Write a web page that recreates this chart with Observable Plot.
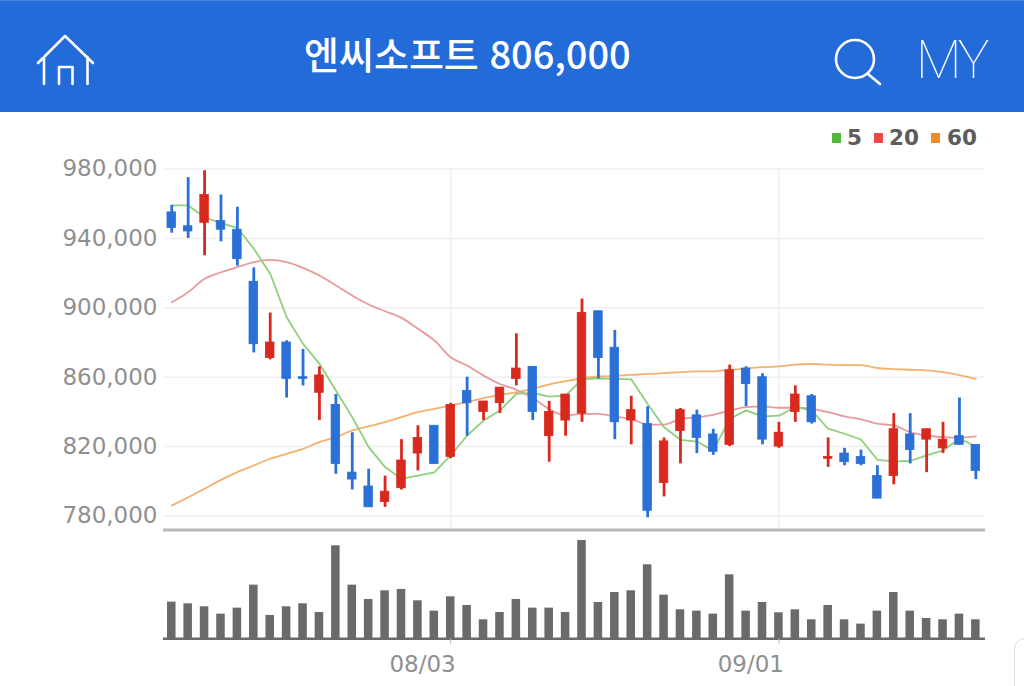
<!DOCTYPE html>
<html lang="ko">
<head>
<meta charset="utf-8">
<script src="https://cdn.jsdelivr.net/npm/d3@7"></script>
<script src="https://cdn.jsdelivr.net/npm/@observablehq/plot@0.6"></script>
<style>
html,body{margin:0;padding:0;background:#fff;width:1024px;height:686px;overflow:hidden}
#wrap{position:relative;width:1024px;height:686px}
header{position:relative;height:112px;background:#236bd8;border-top:1px solid #4a86dc;box-sizing:border-box}
#title{position:absolute;left:304px;top:27px;color:#fff;font:500 38px/50px "Noto Sans CJK KR","Noto Sans",sans-serif;white-space:nowrap}
#my{position:absolute;left:916px;top:27px;color:#fff;font:100 53px/64px Roboto,sans-serif;white-space:nowrap;letter-spacing:-3px}
#icons{position:absolute;left:0;top:-1px}
#legend{position:absolute;top:124px;left:0;width:1024px;height:28px;font:700 21.5px/28px "DejaVu Sans",sans-serif;color:#5c5c5c}
#legend span{position:absolute;top:0}
#legend i{position:absolute;top:9px;width:9px;height:10px}
#chart svg{display:block}
#corner{position:absolute;left:1014px;top:638px;width:30px;height:70px;border:1.5px solid #ddd;border-radius:11px}
</style>
</head>
<body>
<div id="wrap">
<header>
<svg id="icons" width="1024" height="112" fill="none" stroke="#fff" stroke-width="2.6" stroke-linecap="round" stroke-linejoin="round">
<path d="M38 63L65 36L93 63M44 57V84M87.5 57V84M59 84V67H72.5V84"/>
<circle cx="855" cy="59" r="19"/><path d="M868 74L880 84"/>
</svg>
<div id="title"></div>
<div id="my">MY</div>
</header>
<div id="legend"></div>
<div id="chart"></div>
<div id="corner"></div>
</div>
<script>
const stockName = "엔씨소프트";
const lastPrice = 806000;

const dates = ["07/09","07/10","07/13","07/14","07/15","07/16","07/17","07/20","07/21","07/22",
  "07/23","07/24","07/27","07/28","07/29","07/30","07/31","08/03","08/04","08/05",
  "08/06","08/07","08/10","08/11","08/12","08/13","08/14","08/18","08/19","08/20",
  "08/21","08/24","08/25","08/26","08/27","08/28","08/31","09/01","09/02","09/03",
  "09/04","09/07","09/08","09/09","09/10","09/11","09/14","09/15","09/16","09/17"];
const dateTicks = ["08/03","09/01"];
const priceTicks = [780,820,860,900,940,980];

// prices in thousand won
const open  = [955,947,949,950,945,915,871,880,860,851,844,805,797,788,796,816,832,814,852,840,845,859,866,826,835,839,898,877,835,833,799,829,838,827,821,865,860,820,840,849,813,816,814,803,803,827,824,819,826,821];
const close = [946,944,965,945,928,879,880,859,859,861,810,801,785,794,812,825,810,844,845,846,854,865,840,840,850,897,871,834,841,783,823,841,825,817,864,856,824,828,850,834,814,811,810,790,830,818,830,824,821,806];
const high  = [959,975,979,965,958,923,897,881,876,866,850,828,807,803,824,832,832,845,860,846,854,885,866,846,850,905,898,887,849,843,825,842,841,830,867,866,862,834,855,850,825,819,818,809,839,839,830,834,848,821];
const low   = [943,940,930,938,924,874,870,848,855,835,804,795,785,785,795,806,810,813,826,835,839,855,835,811,826,834,859,824,821,779,791,810,816,815,820,843,821,819,834,833,808,809,809,790,798,810,805,816,821,801];

const ma5  = [959,959,952.2,948.8,946.1,934,919.6,894.6,879.2,867.7,852.3,837,819.7,808.2,801.4,803.3,805.2,814.9,826.4,835,840.8,850.4,851,848.8,849.4,858.8,859.4,859,858.8,844.6,831.2,823.9,822.9,817.7,836,840.9,837.4,837.8,842.8,840.9,830.3,827.4,824.1,812.4,811.5,811.7,814.9,817.8,824.5,820.1];
const ma20 = [903.2,909,916.7,920.5,923.4,926.3,927.6,926.3,923,918.6,912.9,907.1,901.9,898,894.2,887.9,881.2,871.5,866.7,860.9,856.1,852.7,848,841.7,837.9,838.9,838.9,837.3,836,832.7,832.7,836,836.9,838.3,840.8,842.8,843.2,842.4,842.4,841.8,839.9,837.4,835.7,833.2,832.2,828.4,826.4,825.5,825.1,825.9];
const ma60 = [786,790.8,795.7,800.8,805.3,809.1,813,815.8,818.7,822.6,825.4,829.3,831.6,834.1,837,839.8,841.8,843.7,845.6,848,849.8,851.3,853.3,855.8,857.7,859.4,860.4,860.8,861.3,861.9,862.3,862.9,863.3,863.4,864.3,865,865.8,866.2,867.2,867.6,867.2,867,867,865.3,864.7,864.3,863.9,862.9,861.2,859.1];

// relative traded volume
const volume = [110,105,96,74,92,161,70,96,105,79,279,161,118,144,148,114,83,126,100,57,79,118,92,92,79,295,109,139,144,222,131,87,83,74,192,83,109,78,87,57,100,57,44,83,139,83,61,57,74,57];

const maNames = ["5","20","60"];
const maColors = ["#4fb83c","#ef4a4a","#f08a24"];
const maLineColors = ["#8fcf7c","#e99a9c","#f3b06f"];
const upColor = "#d9281e";
const downColor = "#2a70d6";
const volColor = "#6a6a6a";
const gridColor = "#f0f0f0";
const axisFont = '"DejaVu Sans",sans-serif';

document.getElementById("title").textContent = stockName + " " + d3.format(",")(lastPrice);

const legend = document.getElementById("legend");
const legendX = [[832,847],[874,889],[931,947]];
maNames.forEach((n,i)=>{
  const sq=document.createElement("i");sq.style.left=legendX[i][0]+"px";sq.style.background=maColors[i];legend.appendChild(sq);
  const t=document.createElement("span");t.style.left=legendX[i][1]+"px";t.textContent=n;legend.appendChild(t);
});

const rows = dates.map((date,i)=>({date,open:open[i],close:close[i],high:high[i],low:low[i],ma5:ma5[i],ma20:ma20[i],ma60:ma60[i],volume:volume[i]}));
const candleColor = d => d.close>=d.open ? upColor : downColor;

const xScale = {type:"band",domain:dates,range:[163.05,983.55],paddingInner:0.48,paddingOuter:0.24,round:false};

const pricePlot = Plot.plot({
  width:1024,height:419,marginLeft:163,marginRight:39,marginTop:56.5,marginBottom:1.5,
  x:{...xScale,axis:null},
  y:{domain:[780,980],range:[403.5,56.5],axis:null},
  style:{background:"transparent",overflow:"visible"},
  marks:[
    Plot.gridY(priceTicks,{stroke:gridColor,strokeOpacity:1,strokeWidth:1.5}),
    Plot.gridX(dateTicks,{stroke:gridColor,strokeOpacity:1,strokeWidth:1.5}),
    Plot.axisY({ticks:priceTicks,tickSize:0,tickPadding:6,tickFormat:d=>d3.format(",")(d*1000),label:null,anchor:"left",fontSize:23,fontFamily:axisFont,fill:"#8f8f8f"}),
    Plot.ruleY([780],{dy:14,stroke:"#b8b8b8",strokeWidth:3}),
    Plot.line(rows,{x:"date",y:"ma60",stroke:maLineColors[2],strokeWidth:1.8,curve:"monotone-x"}),
    Plot.line(rows,{x:"date",y:"ma20",stroke:maLineColors[1],strokeWidth:1.8,curve:"monotone-x"}),
    Plot.line(rows,{x:"date",y:"ma5",stroke:maLineColors[0],strokeWidth:1.8}),
    Plot.ruleX(rows,{x:"date",y1:"low",y2:"high",stroke:candleColor,strokeWidth:2.8}),
    Plot.barY(rows,{x:"date",y1:"open",y2:"close",fill:candleColor,stroke:candleColor,strokeWidth:0.8})
  ]
});

const volumePlot = Plot.plot({
  width:1024,height:155,marginLeft:163,marginRight:39,marginTop:7,marginBottom:47.7,
  x:{...xScale,axis:null},
  y:{domain:[0,300],range:[107.3,7.3],axis:null},
  style:{background:"transparent",overflow:"visible"},
  marks:[
    Plot.barY(rows,{x:"date",y:"volume",fill:volColor}),
    Plot.ruleY([0],{stroke:volColor,strokeWidth:2.4}),
    Plot.axisX({ticks:dateTicks,anchor:"bottom",tickSize:6,text:null,label:null,stroke:"#bbb"}),
    Plot.axisX({ticks:dateTicks,anchor:"bottom",tickSize:0,tickPadding:17,label:null,fontSize:23,fontFamily:axisFont,fill:"#8f8f8f",textAnchor:"end",dx:5})
  ]
});

const chart = document.getElementById("chart");
chart.appendChild(pricePlot);
chart.appendChild(volumePlot);
</script>
</body>
</html>
